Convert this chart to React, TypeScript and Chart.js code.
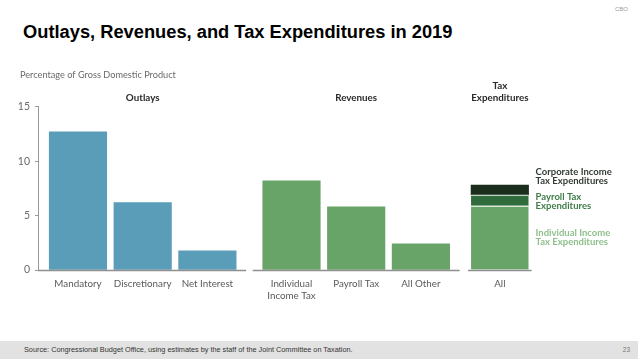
import React, { useEffect, useRef } from "react";
import { Chart, registerables } from "chart.js";

Chart.register(...registerables);

// ---------- data ----------
const TITLE = "Outlays, Revenues, and Tax Expenditures in 2019";
const Y_TITLE = "Percentage of Gross Domestic Product";
const SOURCE = "Source: Congressional Budget Office, using estimates by the staff of the Joint Committee on Taxation.";
const PAGE = "23";

const GROUPS = [["Outlays"], ["Revenues"], ["Tax", "Expenditures"]];
const OUTLAY_CATEGORIES = [["Mandatory"], ["Discretionary"], ["Net Interest"]];
const OUTLAY_VALUES = [12.7, 6.2, 1.75];
const REVENUE_CATEGORIES = [["Individual", "Income Tax"], ["Payroll Tax"], ["All Other"]];
const REVENUE_VALUES = [8.2, 5.8, 2.4];
const TAX_CATEGORY = [["All"]];
const TAX_SERIES = [
  ["Individual Income", "Tax Expenditures"],
  ["Payroll Tax", "Expenditures"],
  ["Corporate Income", "Tax Expenditures"],
];
const TAX_VALUES = [5.9, 1.0, 0.9];
const Y_TICKS = [0, 5, 10, 15];

// ---------- layout / style ----------
const FONT = "Lato, 'Open Sans', sans-serif";
const BLUE = "#5a9db8";
const GREEN = "#68a368";
const TAX_COLORS = ["#68a368", "#2f6b3b", "#1b2e1d"];
const TAX_TEXT_COLORS = ["#8fbf8c", "#3f7c48", "#333d35"];
const GROUP_OFFSET = [0, 0.3, 0.52];
const BASE_PAD = [10, 10, 3];
const BAR_PX = 57.5;

const tickLabels = [...OUTLAY_CATEGORIES, ...REVENUE_CATEGORIES, ...TAX_CATEGORY];
const groupOf = [
  ...OUTLAY_CATEGORIES.map(() => 0),
  ...REVENUE_CATEGORIES.map(() => 1),
  ...TAX_CATEGORY.map(() => 2),
];
const positions = tickLabels.map((_, i) => i + GROUP_OFFSET[groupOf[i]]);

export default function App() {
  const ref = useRef<HTMLCanvasElement | null>(null);

  useEffect(() => {
    document.body.style.margin = "0";
    const canvas = ref.current;
    if (!canvas) return;

    const mainValues = [...OUTLAY_VALUES, ...REVENUE_VALUES];
    const mainColors = [...OUTLAY_VALUES.map(() => BLUE), ...REVENUE_VALUES.map(() => GREEN)];
    const taxX = positions[positions.length - 1];

    const textPlugin = {
      id: "texts",
      afterDraw(chart: any) {
        const { ctx, chartArea, scales } = chart;
        const x = scales.x;
        const y = scales.y;
        ctx.save();
        // y title
        ctx.font = `9.2px ${FONT}`;
        ctx.fillStyle = "#6a6a6a";
        ctx.textAlign = "left";
        ctx.textBaseline = "middle";
        ctx.fillText(Y_TITLE, 20, 75);

        // baselines per group
        ctx.strokeStyle = "#8f8f8f";
        ctx.lineWidth = 1.5;
        for (let g = 0; g < GROUPS.length; g++) {
          const idx = positions.map((p, i) => i).filter((i) => groupOf[i] === g);
          const first = x.getPixelForValue(positions[idx[0]]);
          const last = x.getPixelForValue(positions[idx[idx.length - 1]]);
          const left = g === 0 ? chartArea.left : first - BAR_PX / 2 - BASE_PAD[g];
          const right = last + BAR_PX / 2 + BASE_PAD[g];
          const yb = y.getPixelForValue(0) + 0.5;
          ctx.beginPath();
          ctx.moveTo(left, yb);
          ctx.lineTo(right, yb);
          ctx.stroke();

          // group titles
          const cx = (first + last) / 2;
          ctx.font = `bold 9.8px ${FONT}`;
          ctx.fillStyle = "#2a2a2a";
          ctx.textAlign = "center";
          const lines = GROUPS[g];
          lines.forEach((ln, k) => {
            ctx.fillText(ln, cx, 97.7 - (lines.length - 1 - k) * 11.7);
          });
        }

        // stacked legend labels
        const lx = x.getPixelForValue(taxX) + BAR_PX / 2 + 7;
        const centers = [237.5, 201.5, 176.5];
        ctx.font = `bold 9.5px ${FONT}`;
        ctx.textAlign = "left";
        TAX_SERIES.forEach((lines, s) => {
          ctx.fillStyle = TAX_TEXT_COLORS[s];
          lines.forEach((ln, k) => {
            ctx.fillText(ln, lx, centers[s] + (k - 0.5) * 9.8);
          });
        });
        ctx.restore();
      },
    };

    const chart = new Chart(canvas, {
      type: "bar",
      data: {
        datasets: [
          {
            label: "Outlays and Revenues",
            data: mainValues.map((v, i) => ({ x: positions[i], y: v })),
            backgroundColor: mainColors,
            barThickness: BAR_PX,
            borderWidth: 0,
          } as any,
          ...TAX_SERIES.map((name, s) => ({
            label: name.join(" "),
            data: [{ x: taxX, y: TAX_VALUES[s] }],
            backgroundColor: TAX_COLORS[s],
            barThickness: BAR_PX,
            borderColor: "rgba(255,255,255,0.85)",
            borderWidth: { top: s < TAX_SERIES.length - 1 ? 1.2 : 0, bottom: 0, left: 0, right: 0 },
            borderSkipped: false,
          })),
        ],
      },
      options: {
        responsive: false,
        animation: false,
        events: [],
        layout: { padding: { left: 0, right: 98, top: 106.7, bottom: 53 } },
        plugins: {
          legend: { display: false },
          tooltip: { enabled: false },
          title: { display: false },
        },
        scales: {
          x: {
            type: "linear",
            stacked: true,
            offset: false,
            min: -0.618,
            max: 7.141,
            grid: { display: false, offset: false },
            border: { display: false },
            afterBuildTicks(scale: any) {
              scale.ticks = positions.map((v) => ({ value: v }));
            },
            afterFit(scale: any) {
              scale.height = 36;
            },
            ticks: {
              autoSkip: false,
              maxRotation: 0,
              minRotation: 0,
              padding: 0,
              color: "#5a5a5a",
              font: { family: FONT, size: 9.8, lineHeight: 1.19 },
              callback: (_v: any, i: number) => tickLabels[i],
            },
          },
          y: {
            stacked: true,
            min: 0,
            max: 15,
            afterBuildTicks(scale: any) {
              scale.ticks = Y_TICKS.map((v) => ({ value: v }));
            },
            afterFit(scale: any) {
              scale.width = 38;
            },
            grid: { display: true, drawOnChartArea: false, tickLength: 3, color: "#9a9a9a" },
            border: { display: true, color: "#9a9a9a", width: 1 },
            ticks: {
              padding: 5,
              color: "#6a6a6a",
              font: { family: FONT, size: 10.5 },
            },
          },
        },
      },
      plugins: [textPlugin],
    } as any);

    return () => chart.destroy();
  }, []);

  return (
    <div style={{ position: "relative", width: 638, height: 359, background: "#fff", overflow: "hidden" }}>
      <div
        style={{
          position: "absolute",
          left: 23,
          top: 21,
          font: "bold 18.3px 'Liberation Sans', Arial, sans-serif",
          color: "#000",
          whiteSpace: "nowrap",
        }}
      >
        {TITLE}
      </div>
      <div
        style={{
          position: "absolute",
          right: 10,
          top: 6,
          font: "6px 'Liberation Sans', Arial, sans-serif",
          color: "#9a9a9a",
        }}
      >
        CBO
      </div>
      <canvas ref={ref} width={638} height={359} style={{ position: "absolute", left: 0, top: 0 }} />
      <div
        style={{
          position: "absolute",
          left: 0,
          top: 341,
          width: 638,
          height: 18,
          background: "#e2e2e2",
        }}
      >
        <span
          style={{
            position: "absolute",
            left: 24,
            top: 4,
            font: "7.3px 'Liberation Sans', Arial, sans-serif",
            color: "#333",
            whiteSpace: "nowrap",
          }}
        >
          {SOURCE}
        </span>
        <span
          style={{
            position: "absolute",
            right: 8,
            top: 5,
            font: "6.5px 'Liberation Sans', Arial, sans-serif",
            color: "#777",
          }}
        >
          {PAGE}
        </span>
      </div>
    </div>
  );
}
